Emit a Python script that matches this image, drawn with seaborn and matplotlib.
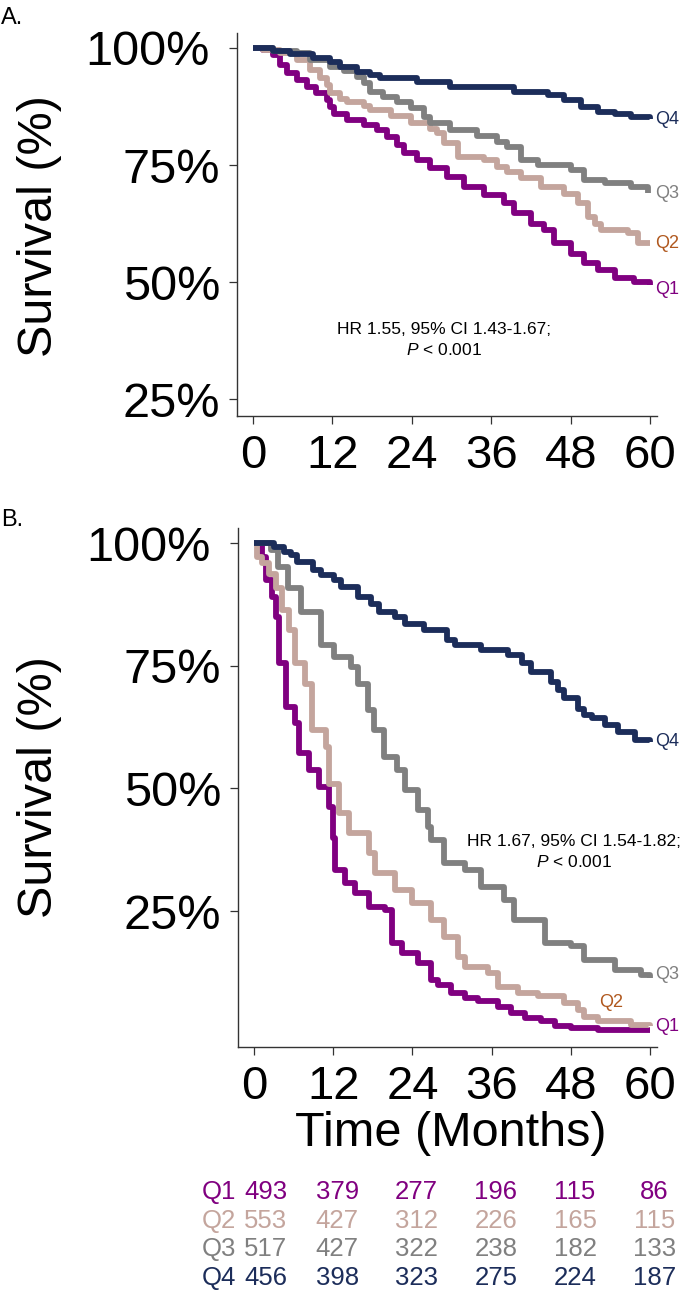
import matplotlib
matplotlib.use("Agg")
import matplotlib.pyplot as plt
import matplotlib.transforms as mtransforms
import seaborn as sns
import pandas as pd

# quartile groups
groups = ["Q1", "Q2", "Q3", "Q4"]

# panel A, survival (%)
a_q1_months = [0, 1.6, 3.1, 4.1, 5.1, 6.6, 8.1, 9.6, 11.2, 11.7, 12.2, 14.2, 16.7, 18.7, 20.3,
               21.8, 22.8, 24.8, 26.8, 29.3, 31.9, 34.9, 37.9, 39.4, 42, 44, 45.5, 48, 50,
               52.1, 54.6, 57.5, 60]
a_q1_surv = [100, 99.6, 98.5, 96.4, 94.6, 93.2, 91.7, 90.3, 88.9, 87.5, 86.0, 84.6, 83.5, 82.5,
             81.0, 79.3, 77.5, 76.1, 74.3, 72.5, 70.4, 68.6, 66.8, 64.7, 62.5, 61.1, 58.3, 56.1,
             54.0, 52.6, 50.8, 50.1, 49.4]
a_q2_months = [0, 1.5, 4.1, 6.6, 8.6, 10.2, 11.2, 11.7, 13.2, 14.2, 16.7, 17.7, 20.8, 23.8,
               26.8, 27.8, 28.8, 30.9, 34.9, 36.9, 38.4, 40.5, 43.5, 47, 49, 50.6, 51.6, 52.6,
               56.6, 58.1, 60]
a_q2_surv = [100, 99.5, 98.9, 97.4, 95.3, 93.5, 92.1, 90.3, 89.2, 88.5, 87.6, 86.8, 85.5, 83.9,
             82.8, 81.8, 79.6, 76.8, 76.1, 74.6, 73.6, 72.2, 70.4, 68.9, 66.8, 64.0, 62.5, 61.1,
             60.4, 58.3, 58.3]
a_q3_months = [0, 3, 6.6, 8.6, 11.7, 13.7, 15.7, 16.7, 17.7, 19.7, 21.8, 23.8, 25.8, 26.8, 29.8,
               33.9, 36.9, 38.4, 40.5, 43, 48, 50, 53.1, 57.1, 59.6]
a_q3_surv = [100, 99.4, 98.9, 97.4, 96, 95, 93.9, 92.5, 90.7, 89.6, 88.5, 87.1, 85.3, 83.9, 82.5,
             81.1, 80, 78.9, 76.1, 75, 73.9, 71.8, 71.1, 70.4, 69]
a_q4_months = [0, 3.1, 5.6, 9.1, 11.7, 13.2, 15.7, 17.7, 19.2, 24.8, 29.8, 39.4, 44.5, 47, 49.5,
               52.1, 54.6, 57.1, 60]
a_q4_surv = [100, 99.4, 98.7, 97.8, 97.1, 96, 94.9, 94.2, 93.5, 92.8, 91.7, 90.7, 90, 88.9,
             87.5, 86.4, 85.9, 85.2, 84.8]

# panel B
b_q1_months = [0, 1.3, 1.8, 2.8, 3.3, 3.8, 4.8, 6.3, 6.8, 8.3, 9.8, 11.4, 11.9, 12.3, 13.8, 15.3,
               17.4, 19.9, 20.9, 22.4, 24.8, 26.8, 27.8, 29.8, 31.9, 33.9, 36.9, 38.9, 41, 43.5,
               45.5, 48, 52.1, 60]
b_q1_surv = [100, 97.2, 92.5, 89, 85, 75.5, 66.7, 63.3, 57.2, 53.8, 50.4, 46.3, 40, 33.4, 30.7,
             28.6, 25.9, 25.2, 18.5, 16.4, 14.4, 11, 9.9, 8.3, 7.2, 6.6, 5.5, 4.2, 3.2, 2.5,
             1.5, 1.1, 0.8, 0.7]
b_q2_months = [0, 0.5, 1.3, 2.3, 3.3, 4.3, 5.3, 6.3, 7.8, 8.8, 10.9, 11.4, 12.9, 14.4, 17.4, 18.4,
               21.4, 24, 26.8, 28.8, 30.9, 31.9, 35.4, 36.9, 39.9, 43, 47, 49, 50, 52.1, 57.1, 60]
b_q2_surv = [100, 97.2, 95.9, 93.8, 90.8, 86.4, 82.3, 75.5, 71.4, 61.9, 58.5, 51, 45, 40.9, 36.8,
             32.8, 29.3, 26.6, 23.2, 19.8, 15.7, 13.7, 12.3, 9.6, 8.3, 7.6, 6.2, 4.9, 3.5, 2.5,
             1.8, 1.5]
b_q3_months = [0, 2.6, 3.6, 5.1, 7.1, 10.1, 12.1, 14.7, 15.7, 17.2, 18.2, 19.7, 21.7, 22.8, 24.8,
               26.3, 26.8, 28.8, 31.9, 34.4, 37.9, 39.4, 44, 48, 50, 54.6, 58.6, 60]
b_q3_surv = [100, 98.6, 95.2, 90.8, 86, 79.2, 76.8, 74.8, 71.4, 66, 61.9, 56.5, 53.8, 49.7, 45.6,
             42.2, 39.5, 34.8, 33.4, 30, 27.3, 23.2, 18.5, 17.8, 15.1, 13, 12, 11.3]
b_q4_months = [0, 3.1, 4.6, 5.6, 6.6, 8.9, 10.2, 12.2, 13.2, 15.7, 17.7, 19, 21.3, 22.8, 25.8,
               29.3, 30.4, 34.4, 38.4, 40.5, 42, 45, 46, 47, 49, 50, 51.1, 53.1, 55.1, 57.6, 60]
b_q4_surv = [100, 99.3, 98.2, 97.6, 96.2, 94.5, 93.5, 92.5, 91.1, 89.1, 87.7, 86, 85, 83.6, 82.3,
             80.2, 79.2, 78.3, 77.2, 75.5, 73.8, 71.8, 70.1, 68.4, 66.3, 65, 64.3, 62.9, 61.6,
             59.9, 59.5]

# number at risk
risk_months = [0, 12, 24, 36, 48, 60]
risk_q1 = [493, 379, 277, 196, 115, 86]
risk_q2 = [553, 427, 312, 226, 165, 115]
risk_q3 = [517, 427, 322, 238, 182, 133]
risk_q4 = [456, 398, 323, 275, 224, 187]

hr_a = "HR 1.55, 95% CI 1.43-1.67;"
hr_b = "HR 1.67, 95% CI 1.54-1.82;"

line_colors = {"Q1": "#800080", "Q2": "#C4A59D", "Q3": "#808080", "Q4": "#1C2D5A"}
label_colors = {"Q1": "#800080", "Q2": "#B0581E", "Q3": "#808080", "Q4": "#1C2D5A"}

sns.set_theme(style="white")
plt.rcParams["font.family"] = ["Liberation Sans", "DejaVu Sans"]
plt.rcParams["mathtext.fontset"] = "custom"
plt.rcParams["mathtext.it"] = "Liberation Sans:italic"
plt.rcParams["mathtext.rm"] = "Liberation Sans"
plt.rcParams["text.color"] = "black"
plt.rcParams["xtick.color"] = "black"
plt.rcParams["ytick.color"] = "black"


def to_frame(months_list, surv_list):
    parts = []
    for g, m, s in zip(groups, months_list, surv_list):
        parts.append(pd.DataFrame({"month": m, "surv": s, "group": g}))
    return pd.concat(parts, ignore_index=True)


df_a = to_frame([a_q1_months, a_q2_months, a_q3_months, a_q4_months],
                [a_q1_surv, a_q2_surv, a_q3_surv, a_q4_surv])
df_b = to_frame([b_q1_months, b_q2_months, b_q3_months, b_q4_months],
                [b_q1_surv, b_q2_surv, b_q3_surv, b_q4_surv])

W, H = 685, 1293
fig = plt.figure(figsize=(W / 100, H / 100), dpi=100)
ax_a = fig.add_axes([237 / W, 1 - 416 / H, 420 / W, 383 / H])
ax_b = fig.add_axes([238 / W, 1 - 1047 / H, 419 / W, 519 / H])


def style_axes(ax, ylim):
    ax.set_xlim(-2.4, 61)
    ax.set_ylim(*ylim)
    ax.set_xticks(risk_months)
    ax.set_xticklabels([str(m) for m in risk_months])
    ax.set_yticks([25, 50, 75, 100])
    ax.set_yticklabels(["25%", "50%", "75%", "100%"])
    for side in ["top", "right"]:
        ax.spines[side].set_visible(False)
    for side in ["left", "bottom"]:
        ax.spines[side].set_color("#333333")
        ax.spines[side].set_linewidth(1.0)
    ax.tick_params(axis="both", direction="out", length=6, width=0.9, color="#333333",
                   labelcolor="black", bottom=True, left=True)
    ax.tick_params(axis="x", labelsize=34, pad=7)
    ax.tick_params(axis="y", labelsize=35, pad=6)
    ax.set_xlabel("")
    ax.set_ylabel("")
    # the top label sits a little further left in the original
    top = ax.get_yticklabels()[-1]
    top.set_transform(top.get_transform() +
                      mtransforms.ScaledTranslation(-11 / 100, 0, fig.dpi_scale_trans))


for ax, df in [(ax_a, df_a), (ax_b, df_b)]:
    sns.lineplot(data=df, x="month", y="surv", hue="group", hue_order=groups,
                 palette=line_colors, estimator=None, drawstyle="steps-post",
                 linewidth=4.2, solid_capstyle="butt", legend=False, ax=ax)

style_axes(ax_a, (21.4, 103.2))
style_axes(ax_b, (-2.7, 103.1))

# curve end labels
off = mtransforms.ScaledTranslation(5 / 100, 0, fig.dpi_scale_trans)
for g, s in zip(groups, [a_q1_surv[-1] - 1, a_q2_surv[-1], a_q3_surv[-1], a_q4_surv[-1]]):
    ax_a.text(60, s, g, color=label_colors[g], fontsize=13, ha="left", va="center",
              transform=ax_a.transData + off)
for g, s in zip(["Q1", "Q3", "Q4"], [b_q1_surv[-1] + 0.7, b_q3_surv[-1] + 0.7, b_q4_surv[-1]]):
    ax_b.text(60, s, g, color=label_colors[g], fontsize=13, ha="left", va="center",
              transform=ax_b.transData + off)
ax_b.text(52.2, 6.4, "Q2", color=label_colors["Q2"], fontsize=13, ha="left", va="center")

# HR annotations
ax_a.text(0.493, 1 - (340 - 33) / 383, hr_a + "\n" + r"$\mathit{P}$ < 0.001", transform=ax_a.transAxes,
          ha="center", va="center", fontsize=12.5, linespacing=1.45)
ax_b.text(0.802, 1 - (852 - 528) / 519, hr_b + "\n" + r"$\mathit{P}$ < 0.001", transform=ax_b.transAxes,
          ha="center", va="center", fontsize=12.5, linespacing=1.45)

# axis titles and panel letters
fig.text(40 / W, 1 - 226 / H, "Survival (%)", rotation=90, ha="center", va="center", fontsize=35)
fig.text(40 / W, 1 - 787 / H, "Survival (%)", rotation=90, ha="center", va="center", fontsize=35)
fig.text(451 / W, 1 - 1133 / H, "Time (Months)", ha="center", va="center", fontsize=35)
fig.text(1 / W, 1 - 18 / H, "A.", ha="left", va="center", fontsize=17)
fig.text(1 / W, 1 - 520 / H, "B.", ha="left", va="center", fontsize=17)

# number-at-risk table
row_y = [1192, 1221, 1249, 1278]
blend = mtransforms.blended_transform_factory(ax_b.transData, fig.transFigure)
shift = mtransforms.ScaledTranslation(4 / 100, 0, fig.dpi_scale_trans)
for g, counts, yp in zip(groups, [risk_q1, risk_q2, risk_q3, risk_q4], row_y):
    c = line_colors[g]
    fy = 1 - yp / H
    fig.text(236 / W, fy, g, color=c, fontsize=18.5, ha="right", va="center")
    for i, (m, n) in enumerate(zip(risk_months, counts)):
        if i == 0:
            fig.text(244 / W, fy, str(n), color=c, fontsize=18.5, ha="left", va="center")
        else:
            fig.text(m, fy, str(n), color=c, fontsize=18.5, ha="center", va="center",
                     transform=blend + shift)

fig.savefig("out.png", dpi=100)
